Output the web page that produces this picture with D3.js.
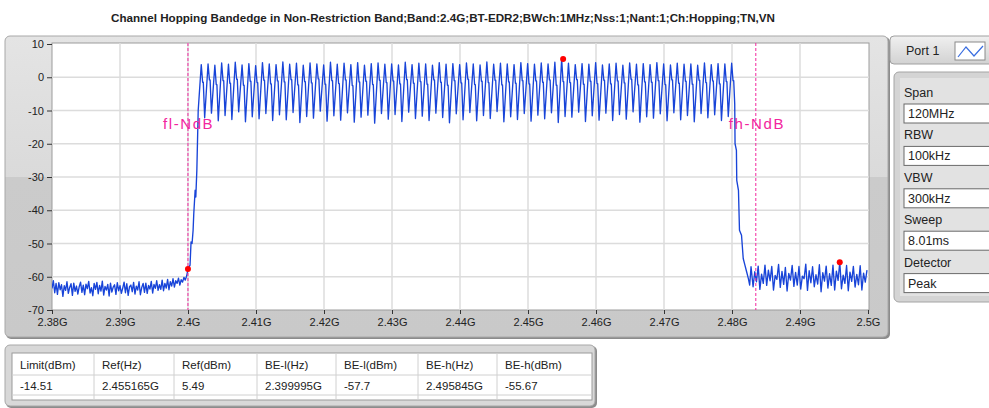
<!DOCTYPE html>
<html>
<head>
<meta charset="utf-8">
<script src="https://cdn.jsdelivr.net/npm/d3@7"></script>
<style>
  html, body { margin: 0; padding: 0; background: #fff; }
  svg { display: block; font-family: "Liberation Sans", Arial, sans-serif; }
</style>
</head>
<body>
<svg id="chart" width="989" height="408"></svg>
<script>
// ---- data (frequencies in MHz, levels in dBm) ----
const title = 'Channel Hopping Bandedge in Non-Restriction Band;Band:2.4G;BT-EDR2;BWch:1MHz;Nss:1;Nant:1;Ch:Hopping;TN,VN';

const xTicks = [2380, 2390, 2400, 2410, 2420, 2430, 2440, 2450, 2460, 2470, 2480, 2490, 2500];
const xTickLabels = ['2.38G', '2.39G', '2.4G', '2.41G', '2.42G', '2.43G', '2.44G', '2.45G', '2.46G', '2.47G', '2.48G', '2.49G', '2.5G'];
const yTicks = [10, 0, -10, -20, -30, -40, -50, -60, -70];

// noise floor below the band, one sample every 0.2 MHz from 2380 MHz
const lowFloorStart = 2380;
const lowFloorStep = 0.2;
const lowFloor = [
  -63.5, -61.2, -64.8, -62.0, -65.3, -61.8, -63.9, -62.4, -65.9, -62.7,
  -64.1, -61.5, -65.0, -63.2, -62.1, -65.6, -61.9, -64.4, -62.8, -65.2,
  -63.0, -61.6, -64.7, -62.5, -65.4, -62.2, -63.6, -61.4, -64.9, -63.3,
  -65.7, -62.0, -63.8, -61.7, -65.1, -62.6, -64.3, -61.3, -65.5, -62.9,
  -64.0, -62.3, -65.8, -61.9, -64.6, -63.1, -62.4, -65.3, -61.8, -64.2,
  -62.7, -65.0, -63.4, -61.6, -64.8, -62.1, -65.6, -63.0, -62.5, -64.5,
  -61.7, -65.2, -62.8, -64.0, -61.5, -65.4, -63.2, -62.0, -64.7, -61.9,
  -65.0, -62.6, -63.7, -61.4, -64.9, -62.3, -63.5, -61.2, -64.1, -62.4,
  -63.8, -61.0, -64.2, -62.0, -63.4, -60.8, -63.9, -61.5, -62.8, -60.6,
  -63.1, -61.2, -62.0, -60.4, -62.5, -60.9, -61.6, -60.2, -61.0, -59.8
];

// lower band edge [MHz, dBm]
const lowEdge = [
  [2400.0, -57.7], [2400.3, -56.5], [2400.45, -49.5], [2400.6, -50.0],
  [2400.75, -46.0], [2400.85, -41.0], [2401.05, -34.0], [2401.15, -36.0],
  [2401.3, -28.0], [2401.5, -10.0]
];

// hopping channels 2402..2480 MHz: top of each hump, then the dip after it
const firstChannel = 2402;
const channelPeaks = [
  3.8, 4.0, 3.6, 4.3, 3.9, 4.5, 3.7, 4.1, 3.5, 4.4,
  4.0, 3.8, 4.6, 3.9, 4.2, 3.6, 4.3, 4.0, 3.7, 4.5,
  3.9, 4.2, 3.8, 4.4, 3.6, 4.1, 4.3, 3.9, 4.0, 3.7,
  4.5, 3.8, 4.2, 4.0, 3.6, 4.4, 3.9, 4.1, 3.8, 4.3,
  4.0, 3.7, 4.6, 3.9, 4.2, 4.0, 3.8, 4.4, 4.1, 3.9,
  4.3, 4.0, 4.5, 5.49, 4.2, 3.8, 4.1, 3.9, 4.4, 3.7,
  4.0, 4.2, 3.6, 4.3, 3.9, 4.1, 3.8, 4.4, 4.0, 3.7,
  4.2, 3.9, 4.0, 3.6, 4.3, 3.8, 4.1, 4.0, 4.2
];
// shoulder on the falling side of each hump
const channelShoulders = [
  -1.5, -0.8, -2.2, -1.0, -1.8, -0.6, -2.4, -1.2, -1.6, -0.9,
  -2.0, -1.1, -1.4, -0.7, -2.3, -1.3, -1.7, -0.5, -2.1, -1.0,
  -1.9, -0.8, -2.5, -1.4, -1.2, -2.2, -0.9, -1.6, -1.1, -2.0,
  -0.7, -1.8, -1.3, -2.1, -0.8, -1.5, -2.4, -1.0, -1.7, -0.6,
  -2.2, -1.2, -1.6, -0.9, -2.3, -1.4, -1.8, -1.0, -2.0, -1.1,
  -1.5, -0.8, -2.4, -1.3, -1.6, -0.7, -2.1, -1.2, -1.9, -0.9,
  -2.0, -1.1, -1.7, -0.6, -2.3, -1.4, -1.5, -1.0, -2.2, -0.8,
  -1.8, -1.2, -2.1, -0.9, -1.6, -1.1, -2.0, -1.3, -1.0
];
const channelDips = [
  -12.2, -10.8, -13.1, -11.5, -12.7, -10.4, -13.4, -11.9, -12.5, -10.9,
  -13.0, -11.3, -12.8, -10.6, -13.6, -11.8, -12.3, -10.2, -13.2, -11.6,
  -12.9, -10.7, -13.5, -12.0, -11.4, -13.8, -10.9, -12.6, -11.2, -13.3,
  -10.5, -12.4, -11.7, -13.0, -10.8, -12.1, -13.7, -11.0, -12.8, -10.6,
  -13.1, -11.5, -12.4, -10.3, -13.4, -11.9, -12.7, -10.9, -13.2, -11.4,
  -12.5, -10.7, -13.6, -11.8, -12.0, -10.5, -13.3, -11.6, -12.9, -10.8,
  -13.0, -11.2, -12.6, -10.4, -13.5, -11.9, -12.3, -11.0, -13.1, -10.7,
  -12.8, -11.5, -13.4, -10.9, -12.2, -11.3, -13.0, -11.8
];

// upper band edge [MHz, dBm]
const highEdge = [
  [2480.4, -8.0], [2480.45, -20.0], [2480.65, -22.0], [2480.7, -31.0],
  [2480.95, -34.0], [2481.1, -46.0], [2481.4, -47.5], [2481.65, -54.5],
  [2481.9, -56.5], [2482.15, -58.5], [2482.4, -60.5], [2482.6, -62.5],
  [2482.8, -57.0]
];

// residue above the band, one sample every 0.25 MHz from 2483.1 MHz
const highFloorStart = 2483.1;
const highFloorStep = 0.25;
const highFloor = [
  -63.0, -58.5, -61.5, -56.8,  -63.8, -59.2, -62.0, -56.5,
  -62.6, -58.0, -61.2, -56.9,  -64.0, -59.6, -60.8, -56.3,
  -63.2, -58.4, -62.3, -57.2,  -64.3, -59.0, -61.0, -56.6,
  -62.9, -58.7, -62.5, -56.9,  -63.7, -59.8, -60.6, -56.2,
  -64.1, -58.2, -61.8, -57.0,  -63.0, -59.4, -62.2, -56.4,
  -64.5, -58.8, -61.3, -56.8,  -63.4, -59.1, -62.6, -56.5,
  -64.0, -58.3, -61.1, -55.67, -63.6, -59.5, -62.0, -56.6,
  -64.2, -58.6, -61.4, -56.9,  -63.1, -59.3, -62.4, -56.7,
  -64.0, -58.9, -61.6, -58.0
];

const markerFreqs = [2399.995, 2455.165, 2495.845];
const markerLevels = [-57.7, 5.49, -55.67];

const edgeLines = [2399.995, 2483.5];
const edgeLabels = ['fl-NdB', 'fh-NdB'];

const settingLabels = ['Span', 'RBW', 'VBW', 'Sweep', 'Detector'];
const settingValues = ['120MHz', '100kHz', '300kHz', '8.01ms', 'Peak'];

const tableHeaders = ['Limit(dBm)', 'Ref(Hz)', 'Ref(dBm)', 'BE-l(Hz)', 'BE-l(dBm)', 'BE-h(Hz)', 'BE-h(dBm)'];
const tableValues = ['-14.51', '2.455165G', '5.49', '2.399995G', '-57.7', '2.495845G', '-55.67'];

// ---- layout ----
const plot = { left: 52, top: 43, right: 869, bottom: 310 };
const pink = '#f2259e';
const traceColor = '#1844d8';

const svg = d3.select('#chart');
const defs = svg.append('defs');

const panelGrad = defs.append('linearGradient')
  .attr('id', 'panelGrad').attr('x1', 0).attr('y1', 0).attr('x2', 0).attr('y2', 1);
panelGrad.append('stop').attr('offset', 0).attr('stop-color', '#e4e4e4');
panelGrad.append('stop').attr('offset', 0.47).attr('stop-color', '#dadada');
panelGrad.append('stop').attr('offset', 0.47).attr('stop-color', '#cbcbcb');
panelGrad.append('stop').attr('offset', 1).attr('stop-color', '#c9c9c9');

const tabGrad = defs.append('linearGradient')
  .attr('id', 'tabGrad').attr('x1', 0).attr('y1', 0).attr('x2', 0).attr('y2', 1);
tabGrad.append('stop').attr('offset', 0).attr('stop-color', '#f0f0f0');
tabGrad.append('stop').attr('offset', 1).attr('stop-color', '#d2d2d2');

defs.append('clipPath').attr('id', 'plotClip')
  .append('rect')
  .attr('x', plot.left).attr('y', plot.top)
  .attr('width', plot.right - plot.left).attr('height', plot.bottom - plot.top);

// title
svg.append('text')
  .attr('x', 443).attr('y', 22)
  .attr('text-anchor', 'middle')
  .attr('font-size', 11.5).attr('font-weight', 'bold').attr('fill', '#222')
  .attr('textLength', 664).attr('lengthAdjust', 'spacingAndGlyphs')
  .text(title);

// graph frame
svg.append('rect')
  .attr('x', 6).attr('y', 37).attr('width', 884).attr('height', 302).attr('rx', 5)
  .attr('fill', '#8c8c8c');
svg.append('rect')
  .attr('x', 5).attr('y', 36).attr('width', 883).attr('height', 301).attr('rx', 5)
  .attr('fill', 'url(#panelGrad)').attr('stroke', '#a8a8a8');

svg.append('rect')
  .attr('x', plot.left).attr('y', plot.top)
  .attr('width', plot.right - plot.left).attr('height', plot.bottom - plot.top)
  .attr('fill', '#fff').attr('stroke', '#9c9c9c');

const x = d3.scaleLinear().domain([2380, 2500]).range([plot.left, plot.right - 1]);
const y = d3.scaleLinear().domain([-70, 10]).range([plot.bottom, plot.top + 1]);

// grid
const grid = svg.append('g');
grid.selectAll('.vg')
  .data(xTicks.slice(1, -1))
  .enter().append('line')
  .attr('x1', (d) => x(d)).attr('x2', (d) => x(d))
  .attr('y1', plot.top).attr('y2', plot.bottom)
  .attr('stroke', '#dcdcdc').attr('stroke-width', 1.5);
grid.selectAll('.hg')
  .data(yTicks.slice(1, -1))
  .enter().append('line')
  .attr('x1', plot.left).attr('x2', plot.right)
  .attr('y1', (d) => y(d)).attr('y2', (d) => y(d))
  .attr('stroke', '#dcdcdc').attr('stroke-width', 1.5);

// axes
const xAxis = d3.axisBottom(x)
  .tickValues(xTicks)
  .tickFormat((d, i) => xTickLabels[i])
  .tickSize(4).tickPadding(4);
const gx = svg.append('g').attr('transform', `translate(0,${plot.bottom})`).call(xAxis);

const yAxis = d3.axisLeft(y)
  .tickValues(yTicks)
  .tickFormat((d) => String(d))
  .tickSize(5).tickPadding(3);
const gy = svg.append('g').attr('transform', `translate(${plot.left},0)`).call(yAxis);

[gx, gy].forEach((g) => {
  g.select('.domain').remove();
  g.selectAll('line').attr('stroke', '#333');
  g.selectAll('text').attr('fill', '#222').attr('font-size', 11)
    .attr('font-family', '"Liberation Sans", Arial, sans-serif');
});

// trace
const trace = [];
lowFloor.forEach((v, i) => trace.push([lowFloorStart + i * lowFloorStep, v]));
lowEdge.forEach((p) => trace.push(p));
channelPeaks.forEach((v, i) => {
  const fc = firstChannel + i;
  trace.push([fc - 0.05, v], [fc + 0.15, channelShoulders[i]], [fc + 0.25, channelShoulders[i]]);
  if (i < channelDips.length) trace.push([fc + 0.45, channelDips[i]]);
});
highEdge.forEach((p) => trace.push(p));
highFloor.forEach((v, i) => trace.push([highFloorStart + i * highFloorStep, v]));

const line = d3.line()
  .x((d) => x(d[0]))
  .y((d) => y(d[1]));

svg.append('path')
  .datum(trace)
  .attr('clip-path', 'url(#plotClip)')
  .attr('d', line)
  .attr('fill', 'none')
  .attr('stroke', traceColor)
  .attr('stroke-width', 1.35)
  .attr('stroke-linejoin', 'round');

// band edge lines
svg.selectAll('.edge')
  .data(edgeLines)
  .enter().append('line')
  .attr('x1', (d) => x(d)).attr('x2', (d) => x(d))
  .attr('y1', plot.top).attr('y2', plot.bottom)
  .attr('stroke', pink).attr('stroke-width', 1)
  .attr('stroke-dasharray', '3,2');

svg.selectAll('.edgeLabel')
  .data(edgeLabels)
  .enter().append('text')
  .attr('x', (d, i) => x(edgeLines[i]) - (i === 0 ? 25 : 27))
  .attr('y', 129)
  .attr('font-size', 15).attr('fill', pink)
  .attr('letter-spacing', 1.6)
  .text((d) => d);

// markers
svg.selectAll('.marker')
  .data(markerFreqs)
  .enter().append('circle')
  .attr('cx', (d) => x(d))
  .attr('cy', (d, i) => y(markerLevels[i]))
  .attr('r', 3)
  .attr('fill', '#f00');

// ---- right side: port tab and settings ----
svg.append('rect')
  .attr('x', 890).attr('y', 36).attr('width', 105).attr('height', 28).attr('rx', 4)
  .attr('fill', 'url(#tabGrad)').attr('stroke', '#a0a0a0');
svg.append('text')
  .attr('x', 906).attr('y', 55)
  .attr('font-size', 12.5).attr('fill', '#222')
  .text('Port 1');
svg.append('rect')
  .attr('x', 955).attr('y', 42).attr('width', 30).attr('height', 18)
  .attr('fill', '#fff').attr('stroke', '#8a8a8a');
svg.append('path')
  .attr('d', 'M958,57 L966,47 L974,56 L983,46')
  .attr('fill', 'none').attr('stroke', '#3a6ee0').attr('stroke-width', 1.2);

svg.append('rect')
  .attr('x', 894).attr('y', 72).attr('width', 100).attr('height', 230).attr('rx', 5)
  .attr('fill', '#d4d4d4').attr('stroke', '#a4a4a4');
svg.append('rect')
  .attr('x', 900).attr('y', 78).attr('width', 95).attr('height', 218)
  .attr('fill', '#e2e2e2');

const settingRow = d3.scaleLinear().domain([0, 1]).range([0, 42.4]);
const settings = svg.selectAll('.setting')
  .data(settingLabels)
  .enter().append('g')
  .attr('transform', (d, i) => `translate(0,${settingRow(i)})`);
settings.append('text')
  .attr('x', 904).attr('y', 97)
  .attr('font-size', 12.5).attr('fill', '#222')
  .text((d) => d);
settings.append('rect')
  .attr('x', 904).attr('y', 104).attr('width', 90).attr('height', 19)
  .attr('fill', '#fff').attr('stroke', '#6a6a6a');
settings.append('text')
  .attr('x', 908).attr('y', 118)
  .attr('font-size', 12.5).attr('fill', '#222')
  .text((d, i) => settingValues[i]);

// ---- result table ----
svg.append('rect')
  .attr('x', 6).attr('y', 346).attr('width', 591).attr('height', 62).attr('rx', 5)
  .attr('fill', '#8c8c8c');
svg.append('rect')
  .attr('x', 5).attr('y', 345).attr('width', 590).attr('height', 61).attr('rx', 5)
  .attr('fill', '#d8d8d8').attr('stroke', '#a8a8a8');
svg.append('rect')
  .attr('x', 12).attr('y', 353).attr('width', 580).attr('height', 47)
  .attr('fill', '#fff').attr('stroke', '#9a9a9a');

const colEdges = [12, 94, 174, 257, 336, 418, 497, 592];
const col = d3.scaleOrdinal().domain(tableHeaders).range(colEdges.slice(0, -1));

svg.selectAll('.colSep')
  .data(colEdges.slice(1, -1))
  .enter().append('line')
  .attr('x1', (d) => d).attr('x2', (d) => d)
  .attr('y1', 353).attr('y2', 400)
  .attr('stroke', '#d0d0d0');
svg.append('line')
  .attr('x1', 12).attr('x2', 592).attr('y1', 375).attr('y2', 375)
  .attr('stroke', '#d0d0d0');
svg.append('line')
  .attr('x1', 12).attr('x2', 592).attr('y1', 395).attr('y2', 395)
  .attr('stroke', '#d0d0d0');

svg.selectAll('.th')
  .data(tableHeaders)
  .enter().append('text')
  .attr('x', (d) => col(d) + 8).attr('y', 369)
  .attr('font-size', 11.5).attr('fill', '#222')
  .text((d) => d);
svg.selectAll('.td')
  .data(tableValues)
  .enter().append('text')
  .attr('x', (d, i) => col(tableHeaders[i]) + 8).attr('y', 390)
  .attr('font-size', 11.5).attr('fill', '#222')
  .text((d) => d);
</script>
</body>
</html>
